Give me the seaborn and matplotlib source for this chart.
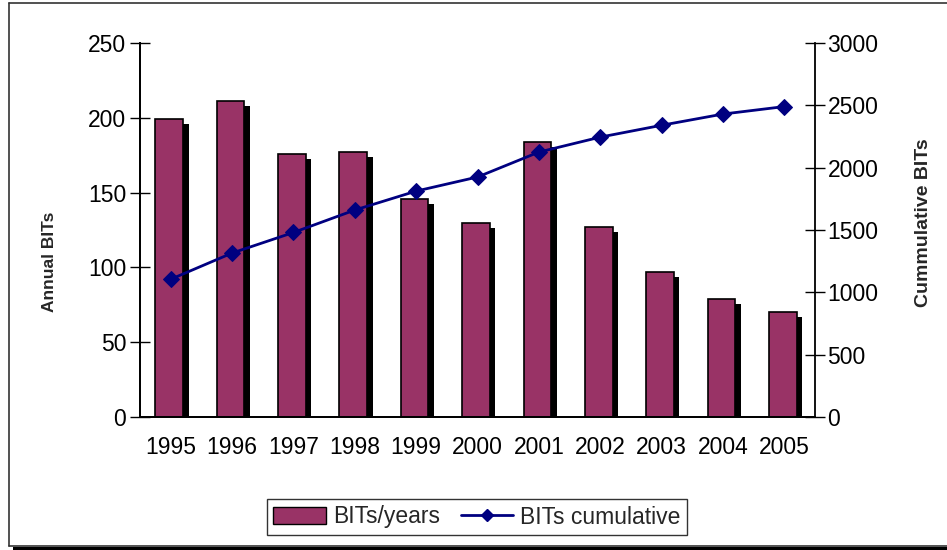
import matplotlib
matplotlib.use('Agg')
import matplotlib.pyplot as plt
import matplotlib.patheffects as pe
from matplotlib.lines import Line2D
from matplotlib.patches import Patch, Rectangle
import seaborn as sns
import numpy as np
import pandas as pd

# data
years = ['1995', '1996', '1997', '1998', '1999', '2000', '2001', '2002', '2003', '2004', '2005']
annual_bits = [199, 211, 176, 177, 146, 130, 184, 127, 97, 79, 70]
cumulative_bits = [1105, 1315, 1480, 1660, 1812, 1925, 2125, 2245, 2340, 2430, 2490]

bar_color = '#993366'
line_color = '#000080'

sns.set_theme(style='white')
plt.rcParams['font.family'] = ['Liberation Sans', 'DejaVu Sans']

df = pd.DataFrame({'year': years, 'annual': annual_bits, 'cum': cumulative_bits})

fig = plt.figure(figsize=(9.47, 5.5), dpi=100, facecolor='white')
ax = fig.add_axes([140 / 947, 1 - 417 / 550, 675 / 947, 374 / 550])

sns.barplot(data=df, x='year', y='annual', color=bar_color, saturation=1,
            width=0.45, edgecolor='black', linewidth=1.2, ax=ax)
for bar in ax.patches:
    bar.set_x(bar.get_x() - 0.025)
    bar.set_path_effects([pe.SimplePatchShadow(offset=(4.0, -3.6), shadow_rgbFace='black', alpha=1.0),
                          pe.Normal()])

ax.set_ylim(0, 250)
ax.set_xlim(-0.5, len(years) - 0.5)
ax.set_yticks(range(0, 251, 50))
ax.set_xlabel('')
ax.set_ylabel('Annual BITs', fontsize=12.5, fontweight='bold')
ax.yaxis.set_label_coords(-0.123, 0.415)
ax.set_xticks(np.arange(len(years)))
ax.set_xticklabels(years)
ax.set_xticks(np.arange(len(years) + 1) - 0.5, minor=True)
ax.tick_params(axis='x', which='major', length=0, pad=14, labelsize=16.5, colors='black')
ax.tick_params(axis='x', which='minor', length=12, width=1, direction='inout', colors='black')
ax.tick_params(axis='y', length=14, width=1, direction='inout', labelsize=16.5, pad=3, colors='black')
ax.tick_params(axis='y', left=True)

ax2 = ax.twinx()
sns.lineplot(x=np.arange(len(years)), y=cumulative_bits, color=line_color, linewidth=2,
             marker='D', markersize=8, markeredgecolor=line_color, ax=ax2)
ax2.set_ylim(0, 3000)
ax2.set_yticks(range(0, 3001, 500))
ax2.set_ylabel('Cummulative BITs', fontsize=14, fontweight='bold')
ax2.yaxis.set_label_coords(1.148, 0.52)
ax2.tick_params(axis='y', length=14, width=1, direction='inout', labelsize=16.5, pad=2, colors='black', right=True)

for a in (ax, ax2):
    a.spines['top'].set_visible(False)
    for s in ('left', 'right', 'bottom'):
        a.spines[s].set_color('black')
        a.spines[s].set_linewidth(1.3)
ax.spines['right'].set_visible(False)

handles = [Patch(facecolor=bar_color, edgecolor='black', linewidth=1),
           Line2D([0], [0], color=line_color, linewidth=2, marker='D', markersize=6)]
fig.legend(handles, ['BITs/years', 'BITs cumulative'], loc='center', bbox_to_anchor=(477 / 947, 1 - 517 / 550),
           ncol=2, fontsize=16.5, frameon=True, fancybox=False, edgecolor='black',
           handlelength=2.3, handletextpad=0.3, columnspacing=0.9, borderpad=0.3)
fig.legends[0].get_frame().set_linewidth(1)

# chart area border with bottom shadow
fig.add_artist(Line2D([9 / 947, 9 / 947], [1 - 3 / 550, 1 - 546 / 550], transform=fig.transFigure, color='#333333', lw=1.2))
fig.add_artist(Line2D([9 / 947, 1], [1 - 3 / 550, 1 - 3 / 550], transform=fig.transFigure, color='#333333', lw=1.2))
fig.add_artist(Line2D([9 / 947, 1], [1 - 546 / 550, 1 - 546 / 550], transform=fig.transFigure, color='#333333', lw=1.2))
fig.add_artist(Rectangle((13 / 947, 0), 1, 3 / 550, transform=fig.transFigure, color='black', lw=0))

fig.savefig('out.png', dpi=100, facecolor='white')
